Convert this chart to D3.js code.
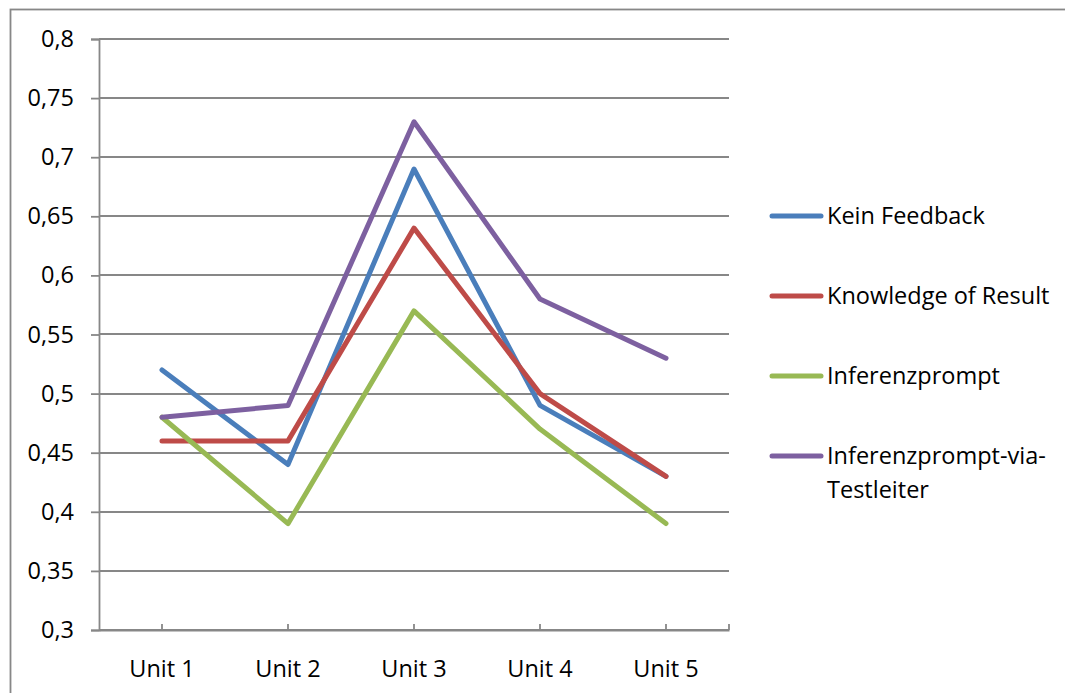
<!DOCTYPE html>
<html>
<head>
<meta charset="utf-8">
<script src="https://cdn.jsdelivr.net/npm/d3@7"></script>
<style>
  html, body { margin: 0; padding: 0; background: #fff; }
  svg { display: block; }
  text { font-family: "Open Sans", sans-serif; fill: #000; }
</style>
</head>
<body>
<svg id="chart" width="1065" height="693"></svg>
<script>
// Units on the x axis
const categories = ["Unit 1", "Unit 2", "Unit 3", "Unit 4", "Unit 5"];

// Series values per unit
const keinFeedback = [0.52, 0.44, 0.69, 0.49, 0.43];
const knowledgeOfResult = [0.46, 0.46, 0.64, 0.50, 0.43];
const inferenzprompt = [0.48, 0.39, 0.57, 0.47, 0.39];
const inferenzpromptViaTestleiter = [0.48, 0.49, 0.73, 0.58, 0.53];

const seriesNames = ["Kein Feedback", "Knowledge of Result", "Inferenzprompt", "Inferenzprompt-via-Testleiter"];
const seriesColors = ["#4A7EBB", "#BE4B48", "#98B954", "#7D60A0"];

// Y axis ticks
const yTicks = [0.3, 0.35, 0.4, 0.45, 0.5, 0.55, 0.6, 0.65, 0.7, 0.75, 0.8];

const series = [keinFeedback, knowledgeOfResult, inferenzprompt, inferenzpromptViaTestleiter]
  .map((values, i) => ({ name: seriesNames[i], color: seriesColors[i], values }));

const svg = d3.select("#chart");
const axisColor = "#878787";
const gridWidth = 1.8;
const seriesWidth = 5;
const fontSize = 23.5;
const plot = { left: 99, right: 729, top: 39, bottom: 630 };

// Outer chart border (extends past the viewport on the right and bottom)
svg.append("rect")
  .attr("x", 10.5).attr("y", 9.5)
  .attr("width", 1100).attr("height", 720)
  .attr("fill", "none")
  .attr("stroke", axisColor)
  .attr("stroke-width", 1.8);

const x = d3.scaleBand().domain(categories).range([plot.left, plot.right]).padding(0);
const y = d3.scaleLinear().domain([0.3, 0.8]).range([plot.bottom, plot.top]);
const fmt = v => d3.format(".2~f")(v).replace(".", ",");

// Horizontal gridlines
svg.append("g")
  .selectAll("line")
  .data(yTicks)
  .join("line")
  .attr("x1", plot.left).attr("x2", plot.right)
  .attr("y1", d => Math.round(y(d))).attr("y2", d => Math.round(y(d)))
  .attr("stroke", axisColor).attr("stroke-width", gridWidth);

// Y axis
const yAxis = svg.append("g")
  .attr("transform", `translate(${plot.left},0)`)
  .call(d3.axisLeft(y).tickValues(yTicks).tickFormat(fmt).tickSize(8).tickPadding(17));
yAxis.select(".domain").attr("stroke", axisColor).attr("stroke-width", gridWidth);
yAxis.selectAll(".tick line").attr("stroke", axisColor).attr("stroke-width", gridWidth);
yAxis.selectAll(".tick text")
  .attr("font-family", "Open Sans, sans-serif")
  .attr("font-size", fontSize)
  .attr("fill", "#000");

// X axis with inward ticks at unit centers
const xAxis = svg.append("g")
  .attr("transform", `translate(0,${plot.bottom})`)
  .call(d3.axisBottom(x).tickSize(-6).tickPadding(30).tickSizeOuter(0));
xAxis.select(".domain").attr("stroke", axisColor).attr("stroke-width", gridWidth);
xAxis.selectAll(".tick line").attr("stroke", axisColor).attr("stroke-width", gridWidth);
xAxis.selectAll(".tick text")
  .attr("font-family", "Open Sans, sans-serif")
  .attr("font-size", fontSize)
  .attr("fill", "#000")
  .attr("dy", "0.71em");
// closing tick at the right end of the axis
xAxis.append("line")
  .attr("x1", plot.right).attr("x2", plot.right)
  .attr("y1", 0).attr("y2", -6)
  .attr("stroke", axisColor).attr("stroke-width", gridWidth);

// Series lines
const line = d3.line()
  .x((d, i) => x(categories[i]) + x.bandwidth() / 2)
  .y(d => y(d));

svg.append("g")
  .selectAll("path")
  .data(series)
  .join("path")
  .attr("d", d => line(d.values))
  .attr("fill", "none")
  .attr("stroke", d => d.color)
  .attr("stroke-width", seriesWidth)
  .attr("stroke-linejoin", "round")
  .attr("stroke-linecap", "round");

// Legend
const legendRows = [216, 296, 376, 456];
const legend = svg.append("g");
series.forEach((s, i) => {
  const g = legend.append("g").attr("transform", `translate(0,${legendRows[i]})`);
  g.append("line")
    .attr("x1", 772).attr("x2", 821)
    .attr("y1", 0).attr("y2", 0)
    .attr("stroke", s.color)
    .attr("stroke-width", seriesWidth)
    .attr("stroke-linecap", "round");
  const parts = s.name === "Inferenzprompt-via-Testleiter"
    ? ["Inferenzprompt-via-", "Testleiter"]
    : [s.name];
  const t = g.append("text")
    .attr("x", 827)
    .attr("y", 8)
    .attr("font-size", fontSize);
  parts.forEach((p, j) => {
    t.append("tspan").attr("x", 827).attr("dy", j === 0 ? 0 : 34).text(p);
  });
});
</script>
</body>
</html>
